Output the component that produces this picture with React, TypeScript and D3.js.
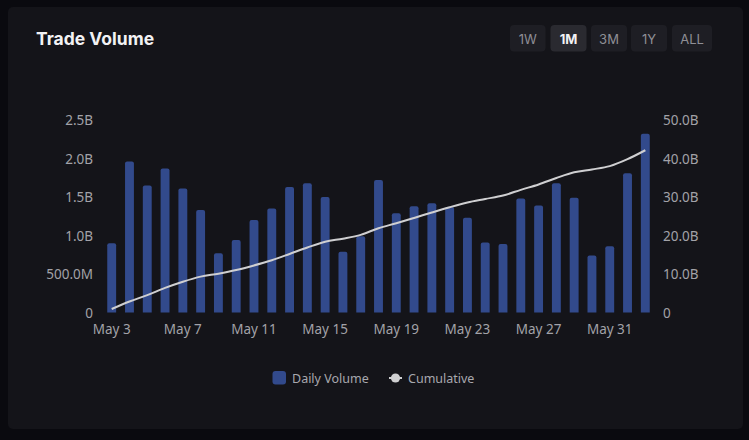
import * as d3 from "d3";
import React from "react";

// daily volume in billions, May 3 .. Jun 2
const days = [
  "May 3", "May 4", "May 5", "May 6", "May 7", "May 8", "May 9", "May 10",
  "May 11", "May 12", "May 13", "May 14", "May 15", "May 16", "May 17", "May 18",
  "May 19", "May 20", "May 21", "May 22", "May 23", "May 24", "May 25", "May 26",
  "May 27", "May 28", "May 29", "May 30", "May 31", "Jun 1", "Jun 2",
];
const dailyVolume = [
  0.9, 1.96, 1.65, 1.87, 1.61, 1.33, 0.77, 0.94, 1.2, 1.35, 1.63, 1.68, 1.5, 0.79,
  0.99, 1.72, 1.29, 1.38, 1.42, 1.37, 1.23, 0.91, 0.89, 1.48, 1.39, 1.68, 1.49,
  0.74, 0.86, 1.81, 2.32,
];
const cumulative = [
  0.9, 2.86, 4.51, 6.38, 7.99, 9.32, 10.09, 11.03, 12.23, 13.58, 15.21, 16.89,
  18.39, 19.18, 20.17, 21.89, 23.18, 24.56, 25.98, 27.35, 28.58, 29.49, 30.38,
  31.86, 33.25, 34.93, 36.42, 37.16, 38.02, 39.83, 42.15,
];
const leftTicks = [0, 0.5, 1, 1.5, 2, 2.5];
const rightTicks = [0, 10, 20, 30, 40, 50];
const ranges = ["1W", "1M", "3M", "1Y", "ALL"];

const width = 749;
const height = 440;
const barColor = "#324a8c";
const lineColor = "#cfcfd1";
const tickColor = "#a2a2a8";
const font = "'Noto Sans', 'Open Sans', sans-serif";

export default function App() {
  const x = d3
    .scaleBand<string>()
    .domain(days)
    .range([102.8, 654.2])
    .paddingInner(0.5)
    .paddingOuter(0.25);
  const yLeft = d3.scaleLinear().domain([0, 2.5]).range([312.5, 120]);
  const yRight = d3.scaleLinear().domain([0, 50]).range([312.5, 120]);
  const bw = x.bandwidth();
  const cx = (d: string) => (x(d) as number) + bw / 2;

  const line = d3
    .line<number>()
    .x((_, i) => cx(days[i]))
    .y((d) => yRight(d))
    .curve(d3.curveMonotoneX);

  const fmtLeft = (v: number) => (v === 0 ? "0" : v < 1 ? `${(v * 1000).toFixed(1)}M` : `${v.toFixed(1)}B`);
  const fmtRight = (v: number) => (v === 0 ? "0" : `${v.toFixed(1)}B`);

  const barPath = (x0: number, y0: number, w: number, h: number) => {
    const r = Math.min(2, h / 2);
    return `M${x0},${y0 + h}V${y0 + r}Q${x0},${y0} ${x0 + r},${y0}H${x0 + w - r}Q${x0 + w},${y0} ${x0 + w},${y0 + r}V${y0 + h}Z`;
  };

  const btnX = [510, 550.5, 591, 631, 672];
  const btnW = [35.5, 36, 36, 36, 40];

  return (
    <svg
      width={width}
      height={height}
      style={{ position: "absolute", left: 0, top: 0, display: "block" }}
      fontFamily={font}
    >
      <rect x={0} y={0} width={width} height={height} fill="#0a0a0f" />
      <rect x={8} y={7} width={735} height={422} rx={5} fill="#141419" />

      <text x={36} y={45} fill="#f2f2f4" fontSize={17.5} fontWeight={700} fontFamily="Inter, sans-serif">
        Trade Volume
      </text>

      {ranges.map((r, i) => (
        <g key={r}>
          <rect x={btnX[i]} y={25} width={btnW[i]} height={26.5} rx={4} fill={r === "1M" ? "#2a2a30" : "#1e1e24"} />
          <text
            x={btnX[i] + btnW[i] / 2}
            y={38.5}
            textAnchor="middle"
            dominantBaseline="central"
            fontSize={13}
            fontWeight={r === "1M" ? 700 : 400}
            fill={r === "1M" ? "#f2f2f4" : "#8f8f96"}
            fontFamily="Inter, sans-serif"
          >
            {r}
          </text>
        </g>
      ))}

      <g fontSize={13.5} fill={tickColor}>
        {leftTicks.map((t) => (
          <text key={t} x={93} y={yLeft(t)} textAnchor="end" dominantBaseline="central">
            {fmtLeft(t)}
          </text>
        ))}
        {rightTicks.map((t) => (
          <text key={t} x={663} y={yRight(t)} textAnchor="start" dominantBaseline="central">
            {fmtRight(t)}
          </text>
        ))}
        {days
          .filter((_, i) => i % 4 === 0)
          .map((d) => (
            <text key={d} x={cx(d)} y={329} textAnchor="middle" dominantBaseline="central">
              {d}
            </text>
          ))}
      </g>

      <g fill={barColor}>
        {dailyVolume.map((v, i) => (
          <path key={days[i]} d={barPath(x(days[i]) as number, yLeft(v), bw, yLeft(0) - yLeft(v))} />
        ))}
      </g>

      <path d={line(cumulative) ?? ""} fill="none" stroke={lineColor} strokeWidth={2} />

      <g fontSize={12.5} fill="#a8a8ae">
        <rect x={272.5} y={371} width={13.5} height={13.5} rx={3} fill={barColor} />
        <text x={292} y={378} dominantBaseline="central">Daily Volume</text>
        <line x1={389} x2={402} y1={378} y2={378} stroke={lineColor} strokeWidth={2} />
        <circle cx={395.5} cy={378} r={4.6} fill={lineColor} />
        <text x={408} y={378} dominantBaseline="central">Cumulative</text>
      </g>
    </svg>
  );
}
